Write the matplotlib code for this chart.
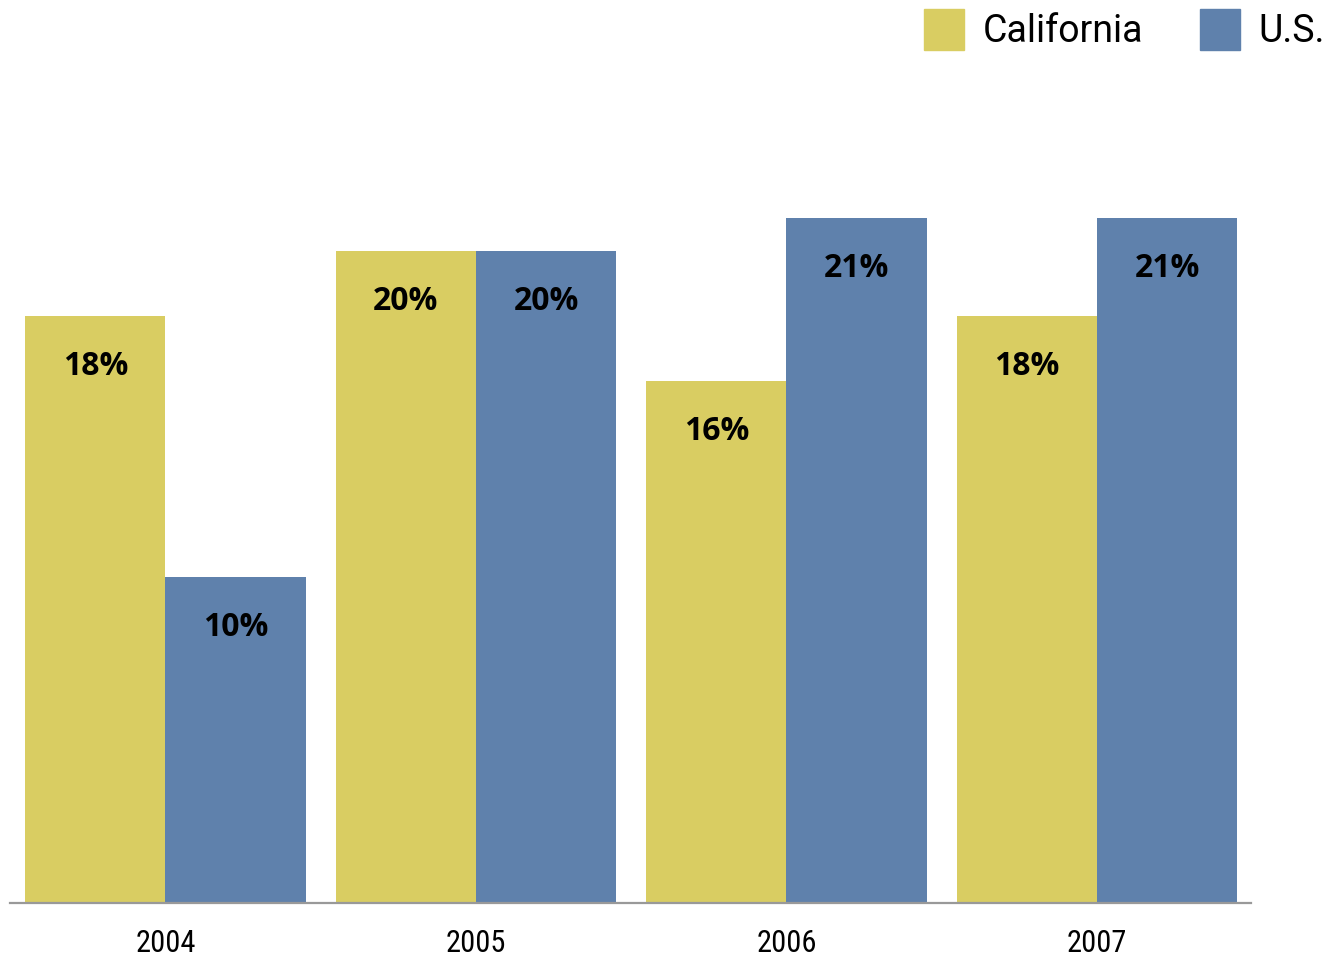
import matplotlib
matplotlib.use("Agg")
import matplotlib.pyplot as plt
from matplotlib.patches import Patch
import numpy as np

years = ["2004", "2005", "2006", "2007"]
california = [18, 20, 16, 18]
us = [10, 20, 21, 21]

ca_color = "#D9CD62"
us_color = "#5F81AC"

W, H = 1327, 956
fig = plt.figure(figsize=(W / 100, H / 100), dpi=100)

# axes span from the baseline up to the top edge of the figure
left, right, base = 10, 1251, 903
ax = fig.add_axes([left / W, (H - base) / H, (right - left) / W, base / H])

x = np.arange(len(years))
width = 0.451
ax.set_xlim(-0.5008, 3.496)
ax.set_ylim(0, base / 32.6)

bars_ca = ax.bar(x - width / 2, california, width, color=ca_color, linewidth=0)
bars_us = ax.bar(x + width / 2, us, width, color=us_color, linewidth=0)

for bars, vals in ((bars_ca, california), (bars_us, us)):
    for b, v in zip(bars, vals):
        ax.text(b.get_x() + b.get_width() / 2, v - 1.55, f"{v}%",
                ha="center", va="center", fontsize=23, fontweight="bold",
                family=["Open Sans", "DejaVu Sans"], color="black")

for s in ("top", "right", "left"):
    ax.spines[s].set_visible(False)
ax.spines["bottom"].set_color("#999999")
ax.spines["bottom"].set_linewidth(1.6)
ax.set_yticks([])
ax.set_xticks(x)
ax.set_xticklabels(years, fontsize=22, family=["Roboto Condensed", "Roboto"])
ax.tick_params(axis="x", length=0, pad=19)

handles = [Patch(color=ca_color, label="California"),
           Patch(color=us_color, label="U.S.")]
fig.legend(handles=handles, loc="upper right", bbox_to_anchor=(1.004, 0.998),
           ncol=2, frameon=False, prop={"family": "Roboto", "size": 27},
           handlelength=1.07, handleheight=1.3, handletextpad=0.5,
           columnspacing=1.5, borderpad=0.2, borderaxespad=0.0)

fig.savefig("out.png", dpi=100)
